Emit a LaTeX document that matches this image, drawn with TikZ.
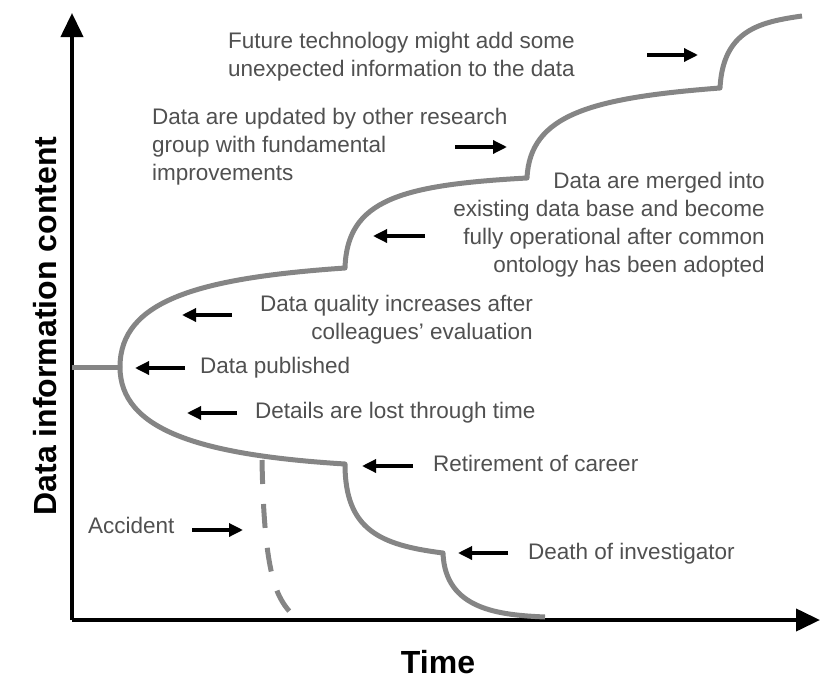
\documentclass[tikz,border=0pt]{standalone}
\usepackage{fontspec}
\setmainfont{Liberation Sans}
\usetikzlibrary{arrows.meta}
\definecolor{curvegray}{HTML}{858585}
\definecolor{textgray}{HTML}{505050}
\begin{document}
\begin{tikzpicture}[x=1pt,y=-1pt,
  curve/.style={draw=curvegray,line width=5pt},
  note/.style={inner sep=0pt,text=textgray,font=\fontsize{22.5}{28}\selectfont},
  pointer/.style={-{Triangle[width=13pt,length=14pt]},line width=3.3pt},
  axis/.style={-{Triangle[width=22pt,length=24pt]},line width=4pt},
  axislabel/.style={inner sep=0pt,font=\fontsize{32}{36}\bfseries\selectfont}]
\useasboundingbox (0,0) rectangle (825,688);
% axes
\coordinate (origin) at (72,620);
\coordinate (ytip) at (72,13);
\coordinate (xtip) at (820,620);
\draw[axis] (origin) -- (ytip);
\draw[axis] (origin) -- (xtip);
\node[axislabel,anchor=base] (ylab) at (56,326) [rotate=90] {Data information content};
\node[axislabel] (xlab) at (438,662) {Time};
% the life of the data: published, then up or down
\coordinate (pub) at (120,367);
\draw[curve] (72,367) -- (pub);
% upper branch, three steps up
\draw[curve,line join=round] (pub) .. controls (120,300) and (200,278) .. (345,268)
  .. controls (347,200) and (400,185) .. (527,178)
  .. controls (530,115) and (590,98) .. (720,88)
  .. controls (723,30) and (760,22) .. (802,16);
% lower branch, two steps down
\draw[curve,line join=round] (pub) .. controls (120,430) and (200,455) .. (345,464)
  .. controls (345,530) and (380,545) .. (443,553)
  .. controls (445,610) and (500,615) .. (545,617);
% accident
\draw[curve,dash pattern=on 24pt off 20pt] (262,460) .. controls (264,570) and (275,595) .. (290,612);
% labels
\node[note,anchor=north west,align=left] (fut) at (228,32) {Future technology might add some\\unexpected information to the data};
\node[note,anchor=north west,align=left] (upd) at (152,108) {Data are updated by other research\\group with fundamental\\improvements};
\node[note,anchor=north east,align=right] (mrg) at (765,172) {Data are merged into\\existing data base and become\\fully operational after common\\ontology has been adopted};
\node[note,anchor=north east,align=right] (qual) at (533,295) {Data quality increases after\\colleagues' evaluation};
\node[note,anchor=north west] (publ) at (200,357) {Data published};
\node[note,anchor=north west] (det) at (255,402) {Details are lost through time};
\node[note,anchor=north west] (ret) at (433,455) {Retirement of career};
\node[note,anchor=north west] (acc) at (88,517) {Accident};
\node[note,anchor=north west] (dth) at (528,543) {Death of investigator};
% pointers, tail -> head
\foreach \n/\tx/\hx/\y in {fut/647/698/55, upd/455/507/147, mrg/425/373/236, qual/232/182/315,
  publ/185/135/368, det/237/187/413, ret/413/362/466, acc/192/243/530, dth/508/458/553}{
  \coordinate (\n-t) at (\tx,\y);
  \coordinate (\n-h) at (\hx,\y);
  \draw[pointer] (\n-t) -- (\n-h);
}
\end{tikzpicture}
\end{document}
